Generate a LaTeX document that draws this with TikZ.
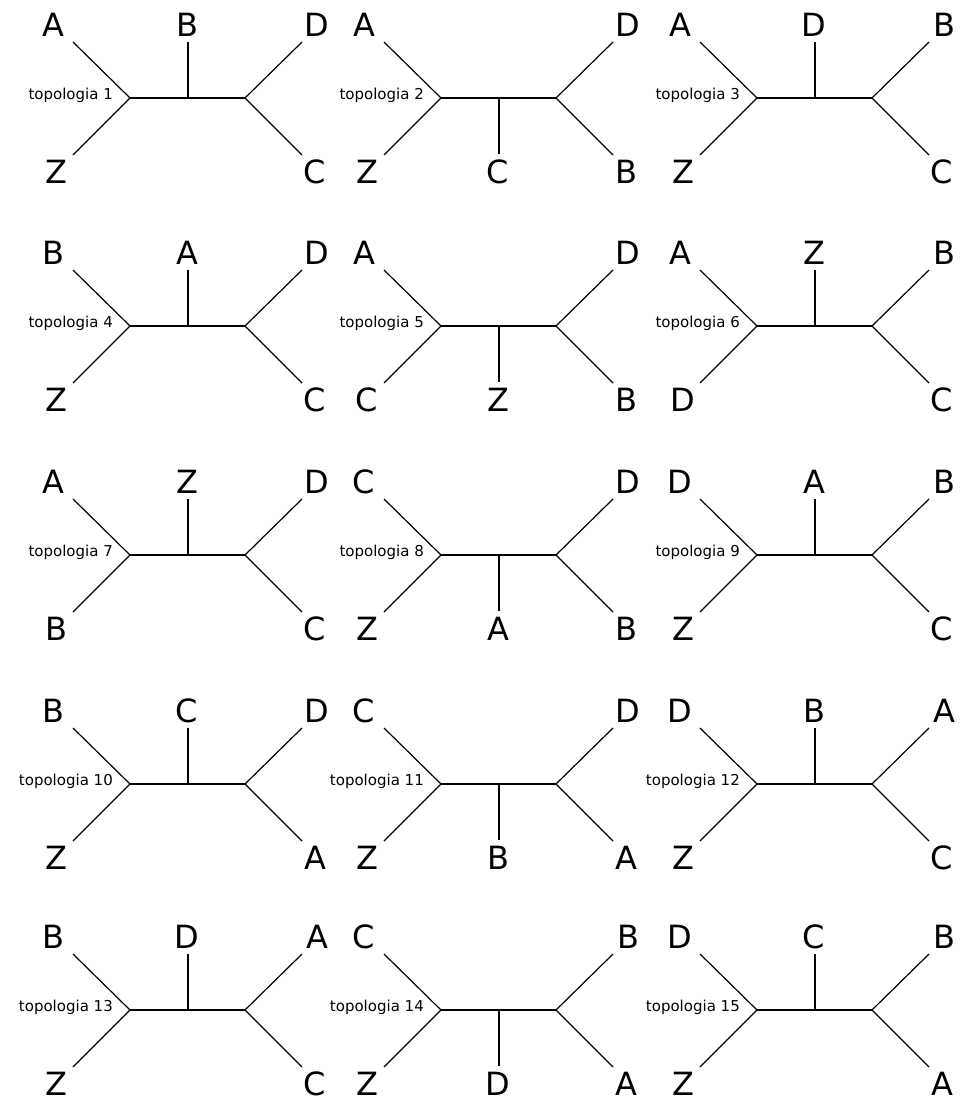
\documentclass[tikz,border=0pt]{standalone}
\usepackage{fontspec}
\setmainfont{DejaVu Sans}
\usetikzlibrary{positioning}

\tikzset{
  branch/.style={black, line width=1.2pt},
  leaf/.style={font=\fontsize{32}{38}\selectfont, inner sep=0pt},
  toplabel/.style={font=\fontsize{15}{18}\selectfont, inner sep=0pt, anchor=base east}
}

\begin{document}
\begin{tikzpicture}[x=1pt, y=-1pt]
\useasboundingbox [fill=white] (0,0) rectangle (971,1100);
% n / centre x / centre y / left top / left bottom / middle / middle end / middle label / right top / right bottom
\foreach \n/\cx/\cy/\lt/\lb/\md/\me/\ml/\rt/\rb in {
   1/130/98/A/Z/B/-56/-73/D/C,    2/441/98/A/Z/C/56/74/D/B,     3/757/98/A/Z/D/-56/-73/B/C,
   4/130/326/B/Z/A/-56/-73/D/C,   5/441/326/A/C/Z/56/74/D/B,    6/757/326/A/D/Z/-56/-73/B/C,
   7/130/555/A/B/Z/-56/-73/D/C,   8/441/555/C/Z/A/56/74/D/B,    9/757/555/D/Z/A/-56/-73/B/C,
   10/130/784/B/Z/C/-56/-73/D/A,  11/441/784/C/Z/B/56/74/D/A,   12/757/784/D/Z/B/-56/-73/A/C,
   13/130/1010/B/Z/D/-56/-73/A/C, 14/441/1010/C/Z/D/56/74/B/A,  15/757/1010/D/Z/C/-56/-73/B/A}
{
  % inner nodes
  \coordinate (L\n) at (\cx,\cy);
  \coordinate (M\n) at (\cx+58,\cy);
  \coordinate (R\n) at (\cx+115,\cy);
  % branch ends
  \coordinate (lt\n) at (\cx-57,\cy-56);
  \coordinate (lb\n) at (\cx-57,\cy+57);
  \coordinate (md\n) at (\cx+58,\cy+\me);
  \coordinate (rt\n) at (\cx+172,\cy-56);
  \coordinate (rb\n) at (\cx+172,\cy+57);
  % leaf names
  \node [leaf] (nlt\n) at (\cx-77,\cy-73) {\lt};
  \node [leaf] (nlb\n) at (\cx-74,\cy+74) {\lb};
  \node [leaf] (nmd\n) at (\cx+57,\cy+\ml) {\md};
  \node [leaf] (nrt\n) at (\cx+187,\cy-73) {\rt};
  \node [leaf] (nrb\n) at (\cx+185,\cy+74) {\rb};
  \node [toplabel] (top\n) at (\cx-17,\cy+1) {topologia \n};
  % branches
  \draw [branch] (lt\n) -- (L\n) -- (lb\n);
  \draw [branch] (L\n) -- (R\n);
  \draw [branch] (M\n) -- (md\n);
  \draw [branch] (rt\n) -- (R\n) -- (rb\n);
}
\end{tikzpicture}
\end{document}
